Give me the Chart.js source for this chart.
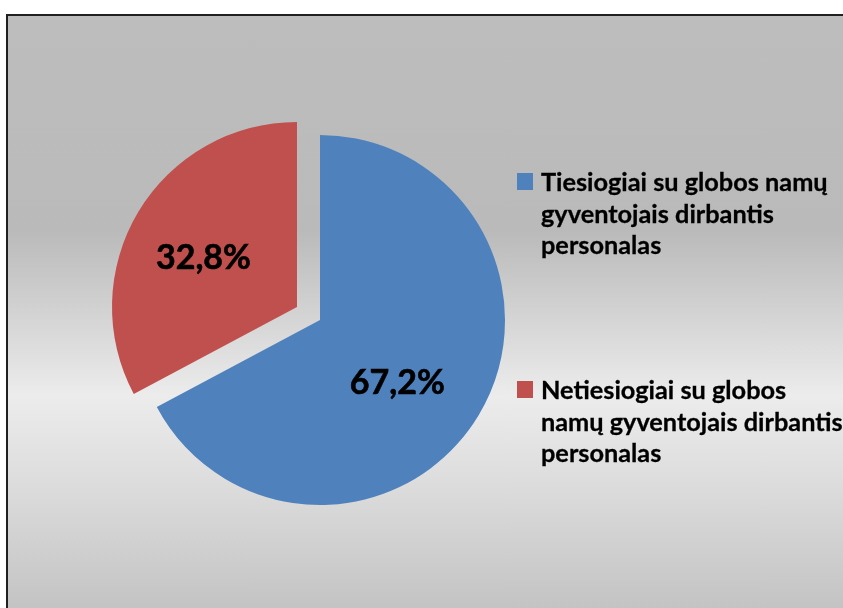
<!DOCTYPE html>
<html>
<head>
<meta charset="utf-8">
<script src="https://cdn.jsdelivr.net/npm/chart.js@4.4.0/dist/chart.umd.min.js"></script>
<style>
    html, body {
        margin: 0;
        padding: 0;
        width: 843px;
        height: 608px;
        overflow: hidden;
        background: #ffffff;
        font-family: Lato, "Open Sans", sans-serif;
    }
    .frame {
        position: absolute;
        left: 6px;
        top: 14px;
        width: 900px;
        height: 640px;
        border: 2px solid #202020;
        background: linear-gradient(to bottom, #bdbdbd 0px, #bababa 215px, #ececec 380px, #dcdcdc 470px, #c3c3c3 594px);
    }
    #chart {
        position: absolute;
        left: 0;
        top: 0;
    }
    .legend {
        position: absolute;
        left: 0;
        top: 0;
    }
    .legend-item {
        position: absolute;
        left: 541px;
        font-weight: bold;
        font-size: 25.3px;
        line-height: 31.5px;
        color: #000;
        white-space: nowrap;
        -webkit-text-stroke: 0.3px #000;
    }
    .legend-box {
        position: absolute;
        left: -24px;
        top: 7px;
        width: 16px;
        height: 17px;
    }
</style>
</head>
<body>
<div class="frame"></div>
<canvas id="chart" width="843" height="608"></canvas>
<div class="legend" id="legend"></div>
<script>
// Chart data
const categories = [
    ['Tiesiogiai su globos namų', 'gyventojais dirbantis', 'personalas'],
    ['Netiesiogiai su globos', 'namų gyventojais dirbantis', 'personalas']
];
const shares = [67.2, 32.8];
const sliceColors = ['#4F81BD', '#C0504D'];

// Exploded slice shift and label placement (style only)
const explodeShift = [[0, 0], [-23, -13]];
const labelAngleShift = [8.3, -3.5];  // degrees, clockwise
const labelRadius = [0.54, 0.57];     // fraction of pie radius
const legendTops = [166, 374];

function formatShare(v) {
    return v.toFixed(1).replace('.', ',') + '%';
}

// Explode the second slice and draw the value labels
const pieLabels = {
    id: 'pieLabels',
    afterUpdate(chart) {
        const meta = chart.getDatasetMeta(0);
        meta.data.forEach((arc, i) => {
            arc.x += explodeShift[i][0];
            arc.y += explodeShift[i][1];
        });
    },
    afterDatasetsDraw(chart) {
        const ctx = chart.ctx;
        const meta = chart.getDatasetMeta(0);
        ctx.save();
        ctx.font = 'bold 34px Lato, "Open Sans", sans-serif';
        ctx.fillStyle = '#000';
        ctx.strokeStyle = '#000';
        ctx.lineWidth = 0.6;
        ctx.textAlign = 'center';
        ctx.textBaseline = 'middle';
        meta.data.forEach((arc, i) => {
            const mid = (arc.startAngle + arc.endAngle) / 2 + labelAngleShift[i] * Math.PI / 180;
            const d = arc.outerRadius * labelRadius[i];
            const x = arc.x + Math.cos(mid) * d;
            const y = arc.y + Math.sin(mid) * d;
            ctx.fillText(formatShare(shares[i]), x, y);
            ctx.strokeText(formatShare(shares[i]), x, y);
        });
        ctx.restore();
    }
};

new Chart(document.getElementById('chart').getContext('2d'), {
    type: 'pie',
    data: {
        labels: categories,
        datasets: [{
            data: shares,
            backgroundColor: sliceColors,
            borderWidth: 0,
            radius: 185
        }]
    },
    options: {
        responsive: false,
        animation: false,
        events: [],
        layout: {
            padding: { left: 0, right: 203, top: 32, bottom: 0 }
        },
        plugins: {
            legend: { display: false },
            tooltip: { enabled: false }
        }
    },
    plugins: [pieLabels]
});

// HTML legend
const legend = document.getElementById('legend');
categories.forEach((lines, i) => {
    const item = document.createElement('div');
    item.className = 'legend-item';
    item.style.top = legendTops[i] + 'px';
    item.innerHTML = '<span class="legend-box" style="background:' + sliceColors[i] + '"></span>' + lines.join('<br>');
    legend.appendChild(item);
});
</script>
</body>
</html>
